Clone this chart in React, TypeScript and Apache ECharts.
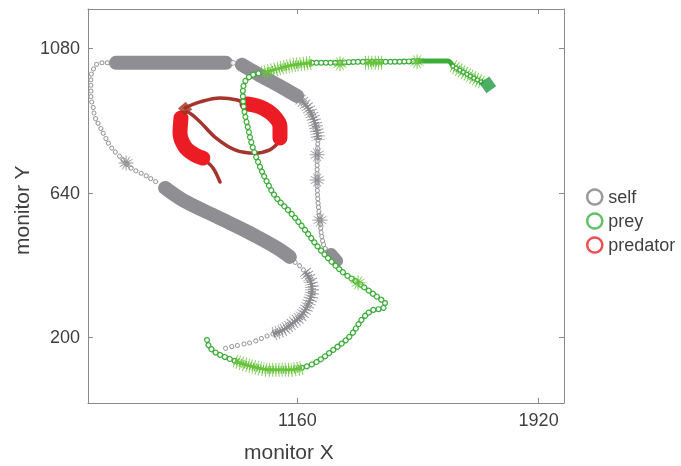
import React, { useEffect, useRef } from "react";
import * as echarts from "echarts";

// ---- axis ticks ----
const xTicks = [1160, 1920];
const yTicks = [200, 640, 1080];
const legendNames = ["self", "prey", "predator"];

// ---- self (grey) ----
const selfBigTop = [[588, 1036], [935, 1036]];
const selfSingleDots = [[957, 1036]];
const selfLoopSmall = [[579, 1036], [563, 1036], [541, 1036], [525, 1030], [516, 1014], [509, 993], [509, 963], [509, 932], [516, 902], [522, 871], [538, 841], [554, 810], [572, 780], [595, 756], [617, 734], [635, 716], [658, 704], [680, 694], [705, 679], [727, 667]];
const selfBigDiag = [[743, 655], [799, 618], [906, 567], [1010, 518], [1096, 472], [1136, 445]];
const selfCurveSmall = [[1140, 440], [1152, 429], [1168, 417], [1184, 399]];
const selfStarChainLow = [[1184, 399], [1200, 375], [1206, 344], [1196, 305], [1174, 268], [1146, 244], [1114, 222], [1083, 210]];
const selfTailSmall = [[1083, 210], [1064, 204], [1020, 186], [979, 177], [938, 168], [922, 161]];
const selfBigRight = [[985, 1030], [1051, 993], [1114, 960], [1159, 935]];
const selfStarChainHigh = [[1162, 932], [1193, 899], [1212, 862], [1222, 825], [1225, 801]];
const selfVerticalSmall = [[1225, 801], [1222, 740], [1222, 679], [1225, 610], [1231, 557], [1237, 505], [1247, 472], [1263, 457]];
const selfBlob = [[1266, 454], [1285, 433]];
const selfStars = [[620, 731], [1222, 756], [1222, 679], [1231, 557]];

// ---- prey (green) ----
const preyStartSmall = [[875, 192], [881, 174], [900, 155], [932, 140], [963, 128]];
const preyStarChainLow = [[963, 128], [1010, 113], [1073, 101], [1136, 101], [1174, 107]];
const preyMidSmall = [[1174, 107], [1215, 122], [1272, 161], [1326, 204], [1367, 259], [1398, 283], [1430, 289], [1436, 305], [1420, 317], [1382, 344], [1351, 366], [1310, 393], [1272, 426], [1225, 475], [1184, 527], [1136, 582], [1092, 627], [1061, 679], [1036, 734], [1017, 786], [1004, 838], [992, 893], [988, 944], [992, 972], [1004, 990], [1026, 1002], [1051, 1005]];
const preyStarChainTop = [[1051, 1005], [1105, 1020], [1152, 1030], [1206, 1036]];
const preyTopSmall = [[1206, 1036], [1263, 1036], [1357, 1039], [1452, 1039], [1546, 1042]];
const preyTopSolid = [[1546, 1042], [1634, 1042], [1650, 1026]];
const preyStarChainShort = [[1373, 1036], [1430, 1036]];
const preyStarChainEnd = [[1650, 1026], [1700, 998], [1745, 975]];
const preyStars = [[1294, 1033], [1537, 1039], [1351, 366]];
const preyDiamond = [[1760, 969]];

// ---- predator (red) ----
const predTail = [[916, 673], [894, 716], [869, 740]];
const predBigLeft = [[862, 746], [837, 756], [806, 780], [790, 822], [793, 868]];
const predS = [[793, 868], [809, 887], [847, 862], [900, 810], [963, 771], [1026, 761], [1073, 771], [1102, 795]];
const predBigRight = [[1105, 807], [1105, 841], [1083, 877], [1042, 902], [1001, 911]];
const predArc = [[1001, 911], [970, 923], [916, 929], [853, 917], [806, 899]];
const predDiamond = [[806, 896]];

// ---- styling ----
const GREY = "#8e8e93";
const GREY_RING = "#9d9da0";
const GREY_STAR = "#8a8a8e";
const GREEN = "#3dad3a";
const GREEN_STAR = "#68c33b";
const GREEN_DARK = "#1f9b3f";
const RED = "#ec1c24";
const DARK_RED = "#a5342d";
const FONT = "'Liberation Sans', Arial, Helvetica, sans-serif";

function starPath(n: number, rOut: number, rIn: number) {
  let d = "";
  for (let i = 0; i < 2 * n; i++) {
    const r = i % 2 === 0 ? rOut : rIn;
    const a = (Math.PI * i) / n;
    const x = 50 + r * Math.sin(a);
    const y = 50 - r * Math.cos(a);
    d += (i === 0 ? "M" : "L") + x.toFixed(2) + " " + y.toFixed(2) + " ";
  }
  return "path://" + d + "Z";
}
const STAR = starPath(12, 50, 11);

const base = { type: "line", symbol: "none", silent: true, animation: false };

function dotChain(data: number[][], color: string, outer: number, inner: number, gap: number, z: number) {
  return [
    { ...base, data, smooth: 0.4, z, lineStyle: { color, width: outer, type: [0.01, gap], cap: "round" } },
    { ...base, data, smooth: 0.4, z, lineStyle: { color: "#ffffff", width: inner, type: [0.01, gap], cap: "round" } },
  ];
}
function hairChain(data: number[][], color: string, z: number) {
  return [
    { ...base, data, smooth: 0.35, z, lineStyle: { color, width: 14, type: [1, 2.2], cap: "butt", opacity: 0.8 } },
    { ...base, data, smooth: 0.35, z, lineStyle: { color, width: 8, type: [1.2, 1.4], cap: "butt" } },
    { ...base, data, smooth: 0.35, z, lineStyle: { color, width: 3 } },
  ];
}
function thick(data: number[][], color: string, width: number, z: number) {
  return { ...base, data, smooth: 0.35, z, lineStyle: { color, width, cap: "round", join: "round" } };
}
function stars(data: number[][], color: string, z: number) {
  return {
    type: "scatter", data, symbol: STAR, symbolSize: 15, silent: true, z,
    itemStyle: { color, borderColor: color, borderWidth: 0.5 },
  };
}

export default function App() {
  const ref = useRef<HTMLDivElement>(null);
  useEffect(() => {
    if (!ref.current) return;
    const chart = echarts.init(ref.current, undefined, { renderer: "svg" });
    const axisLineStyle = { color: "#8a8a8a", width: 1 };
    const xAxisCommon = {
      type: "value",
      min: 500,
      max: 2000,
      splitLine: { show: false },
      axisLine: { show: true, onZero: false, lineStyle: axisLineStyle },
      axisTick: { show: true, inside: true, length: 5, customValues: xTicks, lineStyle: axisLineStyle },
    };
    const yAxisCommon = {
      type: "value",
      min: 0,
      max: 1200,
      splitLine: { show: false },
      axisLine: { show: true, onZero: false, lineStyle: axisLineStyle },
      axisTick: { show: true, inside: true, length: 5, customValues: yTicks, lineStyle: axisLineStyle },
    };
    const labelStyle = { color: "#3f3f3f", fontSize: 18, fontFamily: FONT, formatter: (v: number) => String(v) };

    const series: any[] = [
      // legend proxies
      ...legendNames.map((name) => ({ type: "scatter", name, data: [] })),
      // self
      ...dotChain(selfLoopSmall, GREY_RING, 5, 3, 5.6, 2),
      ...dotChain(selfCurveSmall, GREY_RING, 5, 3, 5.6, 2),
      ...dotChain(selfTailSmall, GREY_RING, 5, 3, 6.2, 2),
      ...dotChain(selfVerticalSmall, GREY_RING, 5, 3, 4.2, 2),
      {
        type: "scatter", data: selfSingleDots, symbol: "circle", symbolSize: 5, silent: true, z: 2,
        itemStyle: { color: "#fff", borderColor: GREY_RING, borderWidth: 1.2 },
      },
      ...hairChain(selfStarChainLow, GREY_STAR, 2),
      ...hairChain(selfStarChainHigh, GREY_STAR, 2),
      stars(selfStars, GREY_STAR, 2),
      thick(selfBigTop, GREY, 14, 2),
      thick(selfBigDiag, GREY, 14, 2),
      thick(selfBigRight, GREY, 14, 2),
      thick(selfBlob, GREY, 12, 2),
      // predator
      thick([...predTail, ...predBigLeft, ...predS, ...predBigRight, ...predArc], DARK_RED, 3.5, 3),
      thick(predBigLeft, RED, 15, 3),
      thick(predBigRight, RED, 15, 3),
      {
        type: "scatter", data: predDiamond, symbol: "rect", symbolSize: 10, symbolRotate: 40, silent: true, z: 3,
        itemStyle: { color: "#a4321f" },
      },
      // prey
      ...dotChain(preyStartSmall, GREEN, 6, 3.6, 5.2, 4),
      ...dotChain(preyMidSmall, GREEN, 6, 3.6, 5.2, 4),
      ...dotChain(preyTopSmall, GREEN, 6, 3.6, 4.6, 4),
      thick(preyTopSolid, GREEN, 5, 4),
      ...hairChain(preyStarChainLow, GREEN_STAR, 4),
      ...hairChain(preyStarChainTop, GREEN_STAR, 4),
      ...hairChain(preyStarChainShort, GREEN_STAR, 4),
      ...hairChain(preyStarChainEnd, GREEN_STAR, 4),
      ...dotChain(preyStarChainEnd, GREEN, 5, 2.6, 4, 4),
      stars(preyStars, GREEN_STAR, 4),
      {
        type: "scatter", data: preyDiamond, symbol: "rect", symbolSize: 12, symbolRotate: 35, silent: true, z: 4,
        itemStyle: { color: GREEN_DARK },
      },
    ];

    chart.setOption({
      animation: false,
      textStyle: { fontFamily: FONT },
      grid: { left: 88, right: 117, top: 9, bottom: 63, containLabel: false },
      xAxis: [
        { ...xAxisCommon, position: "bottom", axisLabel: { ...labelStyle, margin: 8, customValues: xTicks } },
        { ...xAxisCommon, position: "top", axisLabel: { show: false } },
      ],
      yAxis: [
        { ...yAxisCommon, position: "left", axisLabel: { ...labelStyle, margin: 8, padding: [7, 0, 0, 0], customValues: yTicks } },
        { ...yAxisCommon, position: "right", axisLabel: { show: false } },
      ],
      legend: {
        orient: "vertical",
        left: 586,
        top: 188,
        padding: 0,
        itemWidth: 15,
        itemHeight: 15,
        itemGap: 6,
        textStyle: { color: "#3f3f3f", fontSize: 18, lineHeight: 18, fontFamily: FONT, padding: [0, 0, 0, 1] },
        data: [
          { name: "self", icon: "circle", itemStyle: { color: "#fff", borderColor: "#808084", borderWidth: 2.5 } },
          { name: "prey", icon: "circle", itemStyle: { color: "#fff", borderColor: "#3cb043", borderWidth: 2.5 } },
          { name: "predator", icon: "circle", itemStyle: { color: "#fff", borderColor: "#e8202a", borderWidth: 2.5 } },
        ],
        selectedMode: false,
      },
      graphic: [
        {
          type: "text", left: 244, top: 441,
          style: { text: "monitor X", fontSize: 21, fill: "#3f3f3f", fontFamily: FONT },
        },
        {
          type: "text", x: 11, y: 255, rotation: Math.PI / 2,
          style: { text: "monitor Y", fontSize: 21, fill: "#3f3f3f", fontFamily: FONT },
        },
      ],
      series,
    });
    return () => chart.dispose();
  }, []);
  return <div ref={ref} style={{ position: "fixed", left: 0, top: 0, width: 681, height: 466 }} />;
}
